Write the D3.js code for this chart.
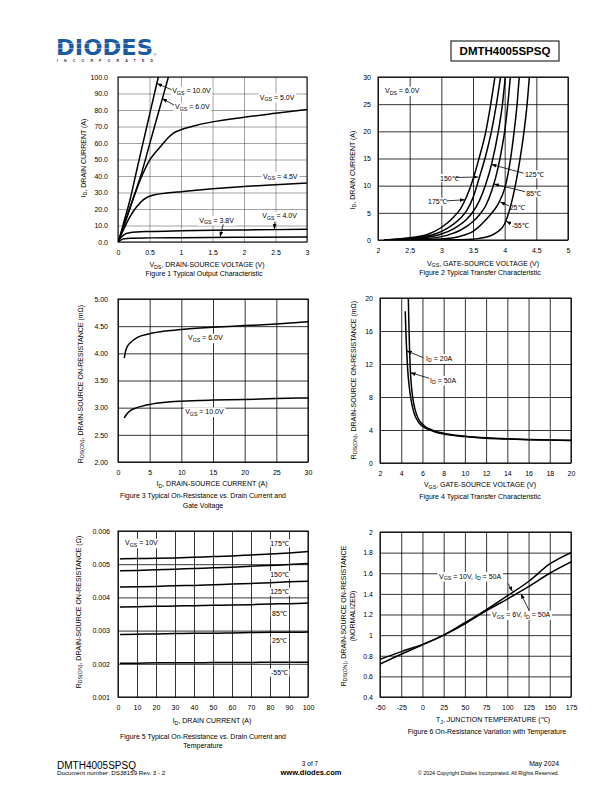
<!DOCTYPE html>
<html>
<head>
<meta charset="utf-8">
<script src="https://cdn.jsdelivr.net/npm/d3@7"></script>
<style>
  body { margin: 0; background: #fff; }
  svg { display: block; font-family: "Liberation Sans", Arial, sans-serif; }
</style>
</head>
<body>
<svg id="page" width="612" height="792"></svg>
<script>
// ---- Figure 1: output characteristic (VDS, ID) ----
const f1XTicks = ["0", "0.5", "1", "1.5", "2", "2.5", "3"];
const f1YTicks = ["0.0", "10.0", "20.0", "30.0", "40.0", "50.0", "60.0", "70.0", "80.0", "90.0", "100.0"];
const f1Vgs10 = [[0,0],[0.05,6],[0.1,13],[0.2,27],[0.28,40.6],[0.4,60.5],[0.5,77],[0.6,93.5],[0.64,100]];
const f1Vgs6 = [[0,0],[0.05,5],[0.1,10.5],[0.2,21.5],[0.3,33],[0.365,40.6],[0.5,59],[0.6,72.7],[0.7,86.3],[0.8,100]];
const f1Vgs5 = [[0,0],[0.1,11],[0.2,22],[0.3,32.5],[0.386,40.6],[0.5,49.5],[0.6,54.5],[0.7,59],[0.8,63.3],[0.88,66],[1,68],[1.25,70.8],[1.5,72.8],[2,75.6],[2.5,78],[3,80.3]];
const f1Vgs45 = [[0,0],[0.1,8.5],[0.2,16],[0.3,21.5],[0.4,25.5],[0.5,27.7],[0.6,28.8],[0.8,29.8],[1,30.5],[1.5,32.2],[2,33.6],[2.5,34.7],[3,35.7]];
const f1Vgs4 = [[0,0],[0.05,2.8],[0.1,4.5],[0.15,5.3],[0.2,5.7],[0.3,6.1],[0.5,6.4],[1,6.8],[1.5,7.1],[2,7.3],[2.5,7.5],[3,7.7]];
const f1Vgs38 = [[0,0],[0.05,1.3],[0.1,2],[0.2,2.3],[0.5,2.5],[1,2.65],[2,2.85],[3,3.0]];

// ---- Figure 2: transfer characteristic (VGS, ID) ----
const f2XTicks = ["2", "2.5", "3", "3.5", "4", "4.5", "5"];
const f2YTicks = ["0", "5", "10", "15", "20", "25", "30"];
const f2T175 = [[2.1,0],[2.5,0.4],[2.8,1.1],[3,2.3],[3.2,4.3],[3.3,5.7],[3.4,8],[3.5,11.2],[3.6,15.2],[3.7,19.8],[3.78,25],[3.846,30]];
const f2T150 = [[2.1,0],[2.6,0.4],[2.9,1.1],[3.1,2.2],[3.3,4],[3.4,5.4],[3.5,7.8],[3.6,11.5],[3.7,15.5],[3.8,20.5],[3.87,25],[3.935,30]];
const f2T125 = [[2.1,0],[2.7,0.4],[3,1.1],[3.2,2.1],[3.4,3.8],[3.5,5.2],[3.6,7.2],[3.7,10.2],[3.8,14.3],[3.9,20],[3.96,24.5],[4.01,30]];
const f2T85 = [[2.2,0],[2.8,0.3],[3.1,0.9],[3.3,1.8],[3.5,3.4],[3.6,4.6],[3.7,6.3],[3.8,9.2],[3.9,13.5],[3.95,16.5],[4,20],[4.05,25],[4.09,30]];
const f2T25 = [[2.4,0],[3,0.2],[3.3,0.7],[3.5,1.6],[3.6,2.5],[3.7,3.7],[3.8,5],[3.9,6.7],[4,9.5],[4.05,12],[4.1,15.5],[4.15,20],[4.2,25.5],[4.23,30]];
const f2Tm55 = [[2.8,0],[3.4,0.1],[3.6,0.3],[3.8,0.9],[3.9,1.6],[4,3],[4.05,4.5],[4.1,6.5],[4.15,9],[4.2,12],[4.25,15.5],[4.3,19.5],[4.35,24.5],[4.39,30]];

// ---- Figure 3: RDS(ON) vs ID and VGS ----
const f3XTicks = ["0", "5", "10", "15", "20", "25", "30"];
const f3YTicks = ["2.00", "2.50", "3.00", "3.50", "4.00", "4.50", "5.00"];
const f3Vgs6 = [[1,3.91],[1.2,4.04],[1.5,4.13],[2,4.2],[3,4.29],[5,4.36],[7.5,4.41],[10,4.44],[15,4.48],[20,4.51],[25,4.54],[30,4.58]];
const f3Vgs10 = [[1,2.81],[1.3,2.87],[2,2.95],[3,3.0],[5,3.06],[7.5,3.1],[10,3.12],[15,3.14],[20,3.15],[25,3.17],[30,3.18]];

// ---- Figure 4: RDS(ON) vs VGS ----
const f4XTicks = ["2", "4", "6", "8", "10", "12", "14", "16", "18", "20"];
const f4YTicks = ["0", "4", "8", "12", "16", "20"];
const f4Id20 = [[4.38,18.4],[4.45,15.5],[4.52,13.5],[4.6,11.5],[4.75,9.3],[4.95,7.5],[5.2,6.1],[5.6,5],[6,4.45],[7,3.85],[8,3.5],[10,3.2],[12,3.0],[14,2.9],[16,2.83],[18,2.78],[20,2.72]];
const f4Id50 = [[4.67,20],[4.72,17],[4.78,14],[4.85,11.5],[4.95,9.5],[5.1,7.8],[5.3,6.5],[5.6,5.4],[6,4.7],[7,3.95],[8,3.6],[10,3.25],[12,3.05],[14,2.93],[16,2.85],[18,2.8],[20,2.75]];

// ---- Figure 5: RDS(ON) vs ID and temperature ----
const f5XTicks = ["0", "10", "20", "30", "40", "50", "60", "70", "80", "90", "100"];
const f5YTicks = ["0.001", "0.002", "0.003", "0.004", "0.005", "0.006"];
const f5Id = [1, 10, 20, 30, 40, 50, 60, 70, 80, 90, 100];
const f5T175 = [0.00516,0.00517,0.00518,0.00519,0.00521,0.00523,0.00525,0.00528,0.00531,0.00534,0.00538];
const f5T150 = [0.00480,0.00481,0.00483,0.00485,0.00487,0.00489,0.00491,0.00494,0.00496,0.00499,0.00502];
const f5T125 = [0.00431,0.00432,0.00433,0.00435,0.00436,0.00438,0.00440,0.00442,0.00444,0.00447,0.00449];
const f5T85 = [0.00371,0.00372,0.00373,0.00374,0.00375,0.00376,0.00377,0.00378,0.00380,0.00381,0.00383];
const f5T25 = [0.00288,0.00289,0.00290,0.00291,0.00292,0.00292,0.00293,0.00294,0.00295,0.00295,0.00296];
const f5Tm55 = [0.00202,0.00202,0.00203,0.00203,0.00203,0.00204,0.00204,0.00204,0.00205,0.00205,0.00205];

// ---- Figure 6: normalized RDS(ON) vs TJ ----
const f6XTicks = ["-50", "-25", "0", "25", "50", "75", "100", "125", "150", "175"];
const f6YTicks = ["0.4", "0.6", "0.8", "1", "1.2", "1.4", "1.6", "1.8", "2"];
const f6Tj = [-50, -25, 0, 25, 50, 75, 100, 125, 150, 175];
const f6Vgs10 = [0.72, 0.815, 0.905, 1.0, 1.12, 1.245, 1.38, 1.52, 1.69, 1.80];
const f6Vgs6 = [0.765, 0.84, 0.91, 1.0, 1.11, 1.235, 1.35, 1.47, 1.60, 1.71];

const svg = d3.select("#page");
svg.append("rect").attr("width", 612).attr("height", 792).attr("fill", "#fff");

svg.append("defs").append("marker")
  .attr("id", "arr")
  .attr("viewBox", "0 0 8 6")
  .attr("refX", 8).attr("refY", 3)
  .attr("markerWidth", 5).attr("markerHeight", 4)
  .attr("markerUnits", "userSpaceOnUse")
  .attr("orient", "auto")
  .append("path").attr("d", "M0,0L8,3L0,6Z").attr("fill", "#000");

// text with _{subscript} parts
function rich(t, str, fs) {
  const sh = fs * 0.22;
  let back = false;
  str.split(/(_\{[^}]*\})/).forEach(p => {
    if (!p) return;
    if (p.startsWith("_{")) {
      t.append("tspan").attr("font-size", fs * 0.75).attr("dy", sh).text(p.slice(2, -1));
      back = true;
    } else {
      const s = t.append("tspan").text(p);
      if (back) { s.attr("dy", -sh); back = false; }
    }
  });
  return t;
}

function panel(o) {
  const x = d3.scaleLinear().domain([+o.xt[0], +o.xt[o.xt.length - 1]]).range([o.x0, o.x1]);
  const y = d3.scaleLinear().domain([+o.yt[0], +o.yt[o.yt.length - 1]]).range([o.y1, o.y0]);
  const h = o.y1 - o.y0, w = o.x1 - o.x0;
  const g = svg.append("g");

  // grid
  const gx = g.append("g").attr("transform", `translate(0,${o.y1})`)
    .call(d3.axisBottom(x).tickValues(o.xt.map(Number)).tickSize(-h).tickFormat(""));
  const gy = g.append("g").attr("transform", `translate(${o.x0},0)`)
    .call(d3.axisLeft(y).tickValues(o.yt.map(Number)).tickSize(-w).tickFormat(""));
  [gx, gy].forEach(a => {
    a.select(".domain").remove();
    a.selectAll("line").attr("stroke", o.gridColor || "#000").attr("stroke-width", o.gridWidth || 0.8);
  });

  // labels (white boxes over the grid)
  const lab = g.append("g").attr("font-size", 7).attr("fill", "#000");
  (o.notes || []).forEach(n => {
    const lg = lab.append("g");
    const t = lg.append("text")
      .attr("x", x(n.x)).attr("y", y(n.y) + 2.5)
      .attr("fill", "#000")
      .attr("text-anchor", n.anchor || "start");
    rich(t, n.t, 7);
    const b = t.node().getBBox();
    lg.insert("rect", "text")
      .attr("x", b.x - 1.5).attr("y", b.y - 0.5)
      .attr("width", b.width + 3).attr("height", b.height + 1)
      .attr("fill", "#fff");
  });

  // curves
  const clipId = "clip" + o.id;
  svg.select("defs").append("clipPath").attr("id", clipId)
    .append("rect").attr("x", o.x0).attr("y", o.y0).attr("width", w).attr("height", h);
  const line = d3.line().x(d => x(d[0])).y(d => y(d[1])).curve(d3.curveMonotoneX);
  g.append("g").attr("clip-path", `url(#${clipId})`)
    .selectAll("path").data(o.series).join("path")
    .attr("d", line).attr("fill", "none")
    .attr("stroke", "#000").attr("stroke-width", 1.5);

  // arrows
  (o.notes || []).filter(n => n.ax !== undefined).forEach(n => {
    g.append("line")
      .attr("x1", x(n.ax)).attr("y1", y(n.ay))
      .attr("x2", x(n.tx)).attr("y2", y(n.ty))
      .attr("stroke", "#000").attr("stroke-width", 0.8)
      .attr("marker-end", "url(#arr)");
  });

  // frame
  g.append("rect").attr("x", o.x0).attr("y", o.y0).attr("width", w).attr("height", h)
    .attr("fill", "none").attr("stroke", "#000").attr("stroke-width", 1);

  // tick labels
  const ax = g.append("g").attr("transform", `translate(0,${o.y1})`)
    .call(d3.axisBottom(x).tickValues(o.xt.map(Number)).tickSize(0).tickPadding(8)
      .tickFormat((d, i) => o.xt[i]));
  const ay = g.append("g").attr("transform", `translate(${o.x0},0)`)
    .call(d3.axisLeft(y).tickValues(o.yt.map(Number)).tickSize(0).tickPadding(o.yPad || 8)
      .tickFormat((d, i) => o.yt[i]));
  [ax, ay].forEach(a => {
    a.select(".domain").remove();
    a.attr("font-size", 7).attr("font-family", null);
    a.selectAll("text").attr("fill", "#000");
  });

  // titles
  rich(g.append("text").attr("x", o.xtX).attr("y", o.xtY).attr("text-anchor", "middle").attr("font-size", 7), o.xTitle, 7);
  o.yTitle.forEach((s, i) => {
    const yx = o.ytX[i];
    rich(g.append("text").attr("transform", `translate(${yx},${o.ytY}) rotate(-90)`)
      .attr("text-anchor", "middle").attr("font-size", 7), s, 7);
  });
  o.caption.forEach((s, i) => {
    g.append("text").attr("x", o.capX).attr("y", o.capY + i * 9.5)
      .attr("text-anchor", "middle").attr("font-size", 7).text(s);
  });
}

panel({
  id: 1, x0: 118, x1: 307, y0: 77, y1: 242, xt: f1XTicks, yt: f1YTicks,
  gridColor: "#444", gridWidth: 0.5, yPad: 10,
  series: [f1Vgs10, f1Vgs6, f1Vgs5, f1Vgs45, f1Vgs4, f1Vgs38],
  notes: [
    { t: "V_{GS} = 10.0V", x: 0.86, y: 91.7, ax: 0.85, ay: 92.3, tx: 0.62, ty: 96 },
    { t: "V_{GS} = 6.0V", x: 0.905, y: 82, ax: 0.89, ay: 83, tx: 0.7, ty: 87 },
    { t: "V_{GS} = 5.0V", x: 2.25, y: 87.7 },
    { t: "V_{GS} = 4.5V", x: 2.3, y: 40 },
    { t: "V_{GS} = 3.8V", x: 1.29, y: 13.3, ax: 1.67, ay: 10.7, tx: 1.62, ty: 3.2 },
    { t: "V_{GS} = 4.0V", x: 2.29, y: 15.8, ax: 2.49, ay: 12.3, tx: 2.48, ty: 7.8 }
  ],
  xTitle: "V_{DS}, DRAIN-SOURCE VOLTAGE (V)", xtX: 207, xtY: 267,
  yTitle: ["I_{D}, DRAIN CURRENT (A)"], ytX: [85.5], ytY: 158,
  caption: ["Figure 1 Typical Output Characteristic"], capX: 204, capY: 276
});

panel({
  id: 2, x0: 378, x1: 568, y0: 77, y1: 240, xt: f2XTicks, yt: f2YTicks, yPad: 7,
  series: [f2T175, f2T150, f2T125, f2T85, f2T25, f2Tm55],
  notes: [
    { t: "V_{DS} = 6.0V", x: 2.11, y: 27.5 },
    { t: "150℃", x: 2.98, y: 11.4, ax: 3.23, ay: 11.5, tx: 3.58, ty: 11.6 },
    { t: "175℃", x: 2.79, y: 7.05, ax: 3.08, ay: 7.2, tx: 3.37, ty: 7.4 },
    { t: "125℃", x: 4.32, y: 12.1, ax: 4.3, ay: 12.3, tx: 3.79, ty: 13.9 },
    { t: "85℃", x: 4.34, y: 8.6, ax: 4.32, ay: 8.9, tx: 3.83, ty: 10.3 },
    { t: "25℃", x: 4.08, y: 5.95, ax: 4.07, ay: 6.26, tx: 3.93, ty: 7.0 },
    { t: "-55℃", x: 4.11, y: 2.76, ax: 4.075, ay: 3.15, tx: 4.025, ty: 3.45 }
  ],
  xTitle: "V_{GS}, GATE-SOURCE VOLTAGE (V)", xtX: 483, xtY: 265.5,
  yTitle: ["I_{D}, DRAIN CURRENT (A)"], ytX: [354.5], ytY: 170,
  caption: ["Figure 2 Typical Transfer Characteristic"], capX: 480, capY: 274.5
});

panel({
  id: 3, x0: 118, x1: 308, y0: 299, y1: 462, xt: f3XTicks, yt: f3YTicks, yPad: 10,
  series: [f3Vgs6, f3Vgs10],
  notes: [
    { t: "V_{GS} = 6.0V", x: 11.05, y: 4.29 },
    { t: "V_{GS} = 10.0V", x: 10.6, y: 2.93 }
  ],
  xTitle: "I_{D}, DRAIN-SOURCE CURRENT (A)", xtX: 212, xtY: 486,
  yTitle: ["R_{DS(ON)}, DRAIN-SOURCE ON-RESISTANCE (mΩ)"], ytX: [82.5], ytY: 384,
  caption: ["Figure 3 Typical On-Resistance vs. Drain Current and", "Gate Voltage"], capX: 203, capY: 498
});

panel({
  id: 4, x0: 380, x1: 571, y0: 298, y1: 463, xt: f4XTicks, yt: f4YTicks, yPad: 7,
  series: [f4Id20, f4Id50],
  notes: [
    { t: "I_{D} = 20A", x: 6.34, y: 12.7, ax: 6.08, ay: 12.76, tx: 4.52, ty: 13.6 },
    { t: "I_{D} = 50A", x: 6.71, y: 10.06, ax: 6.65, ay: 10.27, tx: 4.88, ty: 10.95 }
  ],
  xTitle: "V_{GS}, GATE-SOURCE VOLTAGE (V)", xtX: 480, xtY: 487,
  yTitle: ["R_{DS(ON)}, DRAIN-SOURCE ON-RESISTANCE (mΩ)"], ytX: [355.5], ytY: 380,
  caption: ["Figure 4 Typical Transfer Characteristic"], capX: 480, capY: 499
});

const pairs = (xs, ys) => xs.map((v, i) => [v, ys[i]]);

panel({
  id: 5, x0: 118, x1: 308, y0: 531, y1: 697, xt: f5XTicks, yt: f5YTicks, yPad: 8,
  series: [f5T175, f5T150, f5T125, f5T85, f5T25, f5Tm55].map(s => pairs(f5Id, s)),
  notes: [
    { t: "V_{GS} = 10V", x: 3.7, y: 0.005648 },
    { t: "175℃", x: 85, y: 0.00563, anchor: "middle" },
    { t: "150℃", x: 85, y: 0.004675, anchor: "middle" },
    { t: "125℃", x: 85, y: 0.004172, anchor: "middle" },
    { t: "85℃", x: 85, y: 0.003521, anchor: "middle" },
    { t: "25℃", x: 85, y: 0.002687, anchor: "middle" },
    { t: "-55℃", x: 85, y: 0.001732, anchor: "middle" }
  ],
  xTitle: "I_{D}, DRAIN CURRENT (A)", xtX: 212, xtY: 723,
  yTitle: ["R_{DS(ON)}, DRAIN-SOURCE ON-RESISTANCE (Ω)"], ytX: [80.5], ytY: 612,
  caption: ["Figure 5 Typical On-Resistance vs. Drain Current and", "Temperature"], capX: 203, capY: 738.5
});

panel({
  id: 6, x0: 380, x1: 571, y0: 532, y1: 697, xt: f6XTicks, yt: f6YTicks, yPad: 7,
  series: [pairs(f6Tj, f6Vgs10), pairs(f6Tj, f6Vgs6)],
  notes: [
    { t: "V_{GS} = 10V, I_{D} = 50A", x: 19.5, y: 1.573, ax: 101, ay: 1.5, tx: 106, ty: 1.425 },
    { t: "V_{GS} = 6V, I_{D} = 50A", x: 82, y: 1.2, ax: 126, ay: 1.234, tx: 116, ty: 1.4 }
  ],
  xTitle: "T_{J}, JUNCTION TEMPERATURE (℃)", xtX: 493, xtY: 722,
  yTitle: ["R_{DS(ON)}, DRAIN-SOURCE ON-RESISTANCE", "(NORMALIZED)"], ytX: [345.5, 355], ytY: 616,
  caption: ["Figure 6 On-Resistance Variation with Temperature"], capX: 487, capY: 733.5
});

// ---- header ----
const logo = svg.append("g");
logo.append("text").attr("x", 56).attr("y", 55)
  .attr("font-family", "'DejaVu Sans', sans-serif")
  .attr("font-size", 21.5).attr("font-weight", "bold").attr("fill", "#1a5aa5")
  .attr("textLength", 97).attr("lengthAdjust", "spacingAndGlyphs")
  .text("DIODES");
[43.5, 48.5].forEach(yy => logo.append("line").attr("x1", 55).attr("x2", 154)
  .attr("y1", yy).attr("y2", yy).attr("stroke", "#fff").attr("stroke-width", 0.6).attr("opacity", 0.7));
logo.append("text").attr("x", 153.5).attr("y", 56).attr("font-size", 4).attr("fill", "#1a5aa5").text("®");
logo.append("text").attr("x", 57).attr("y", 61.5)
  .attr("font-size", 3.6).attr("font-weight", "bold").attr("fill", "#333")
  .attr("textLength", 96).attr("lengthAdjust", "spacing").text("INCORPORATED");

svg.append("rect").attr("x", 451).attr("y", 41).attr("width", 108).attr("height", 20)
  .attr("fill", "none").attr("stroke", "#000").attr("stroke-width", 1);
svg.append("text").attr("x", 505).attr("y", 55).attr("text-anchor", "middle")
  .attr("font-size", 11.5).attr("font-weight", "bold").text("DMTH4005SPSQ");

// ---- footer ----
const foot = svg.append("g").attr("fill", "#000");
foot.append("text").attr("x", 57).attr("y", 768.5).attr("font-size", 10).text("DMTH4005SPSQ");
foot.append("text").attr("x", 57).attr("y", 775).attr("font-size", 6.2).text("Document number: DS38159  Rev. 3 - 2");
foot.append("text").attr("x", 310).attr("y", 766).attr("text-anchor", "middle").attr("font-size", 6.5).text("3 of 7");
foot.append("text").attr("x", 311).attr("y", 775).attr("text-anchor", "middle").attr("font-size", 7.5).attr("font-weight", "bold").text("www.diodes.com");
foot.append("text").attr("x", 559).attr("y", 766).attr("text-anchor", "end").attr("font-size", 6.8).text("May 2024");
foot.append("text").attr("x", 559).attr("y", 775).attr("text-anchor", "end").attr("font-size", 5.3).text("© 2024 Copyright Diodes Incorporated. All Rights Reserved.");
</script>
</body>
</html>
